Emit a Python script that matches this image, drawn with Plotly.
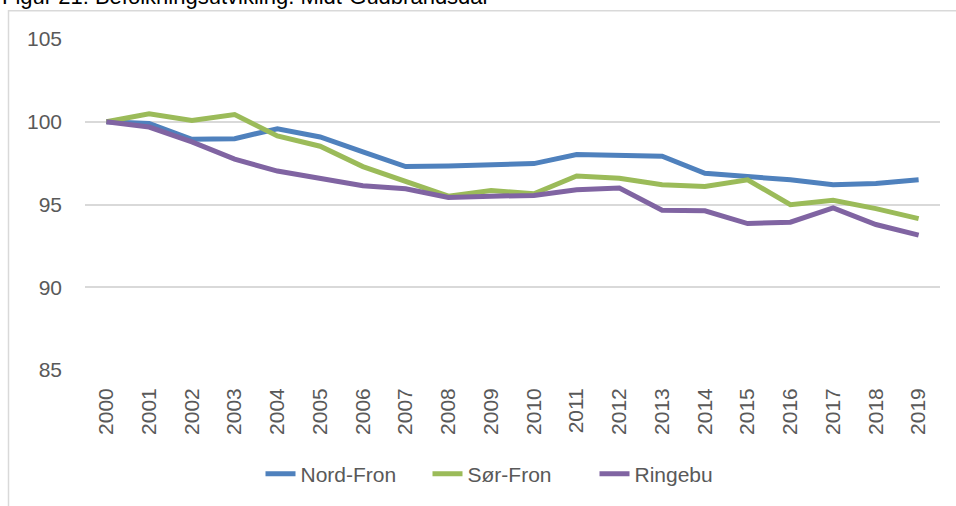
import plotly.graph_objects as go

years = [str(y) for y in range(2000, 2020)]
nord_fron = [100.0, 99.9, 98.94, 98.98, 99.58, 99.08, 98.18, 97.29, 97.33, 97.43,
             97.47, 98.02, 97.98, 97.92, 96.89, 96.69, 96.49, 96.19, 96.27, 96.49]
sor_fron = [100.0, 100.48, 100.08, 100.44, 99.14, 98.52, 97.29, 96.39, 95.5, 95.85,
            95.65, 96.72, 96.59, 96.19, 96.09, 96.49, 94.99, 95.26, 94.75, 94.15]
ringebu = [100.0, 99.68, 98.78, 97.74, 97.02, 96.55, 96.13, 95.95, 95.43, 95.5,
           95.55, 95.89, 95.99, 94.65, 94.62, 93.85, 93.93, 94.79, 93.79, 93.15]
y_ticks = [85, 90, 95, 100, 105]

series = [("Nord-Fron", nord_fron, "#4F81BD"),
          ("Sør-Fron", sor_fron, "#9BBB59"),
          ("Ringebu", ringebu, "#8064A2")]

fig = go.Figure()
for name, vals, col in series:
    fig.add_trace(go.Scatter(x=years, y=vals, mode="lines", name=name,
                             line=dict(color=col, width=5)))

W, H = 956, 506
L, R, T, B = 85, 16, 39, 133
pw, ph = W - L - R, H - T - B

def px(x):
    return (x - L) / pw

def py(y):
    return (H - B - y) / ph

font_family = "Liberation Sans, Arial, sans-serif"
fig.update_layout(
    width=W, height=H,
    margin=dict(l=L, r=R, t=T, b=B, pad=0),
    paper_bgcolor="white", plot_bgcolor="white",
    font=dict(family=font_family, color="#595959", size=21),
    showlegend=True,
    legend=dict(orientation="h", x=px(511), xanchor="center", y=py(478), yanchor="middle",
                font=dict(size=21, color="#595959"), bgcolor="rgba(0,0,0,0)",
                entrywidth=122, entrywidthmode="pixels", tracegroupgap=0),
    xaxis=dict(type="category", range=[-0.5, 19.5], showgrid=False, zeroline=False,
               showline=False, ticks="", tickangle=-90, tickfont=dict(size=21, color="#595959"),
               ticklabelstandoff=13, fixedrange=True),
    yaxis=dict(range=[85, 105], tickvals=y_ticks, showgrid=True, gridcolor="#D9D9D9",
               gridwidth=1.5, zeroline=False, showline=False, ticks="",
               tickfont=dict(size=21, color="#595959"), ticklabelstandoff=22, fixedrange=True),
    shapes=[dict(type="rect", xref="paper", yref="paper", x0=px(8.5), x1=px(960),
                 y0=py(520), y1=py(10.5), line=dict(color="#D9D9D9", width=1.5),
                 fillcolor="rgba(0,0,0,0)", layer="below")],
    annotations=[dict(text="Figur 21: Befolkningsutvikling. Midt-Gudbrandsdal",
                      xref="paper", yref="paper", x=px(0), y=py(11), xanchor="left",
                      yanchor="bottom", showarrow=False,
                      font=dict(size=22, color="#000000", family=font_family))],
)

fig.write_html("out.html", config={"displayModeBar": False},
               post_script="document.body.style.margin='0';document.body.style.overflow='hidden';")
